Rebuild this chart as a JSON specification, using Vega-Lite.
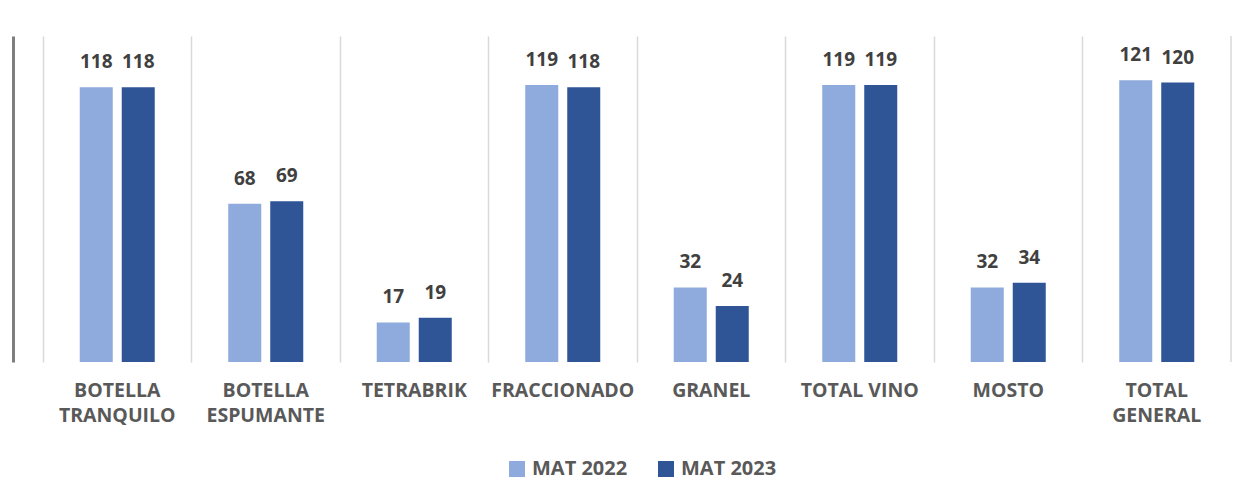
{
  "$schema": "https://vega.github.io/schema/vega-lite/v6.json",
  "autosize": {"type": "none"},
  "padding": {"left": 43, "top": 36, "right": 10, "bottom": 119},
  "width": 1188,
  "height": 326,
  "background": "white",
  "config": {
    "view": {"stroke": null},
    "font": "Open Sans"
  },
  "data": {
    "values": [
      {"categoria": "BOTELLA TRANQUILO", "periodo": "MAT 2022", "valor": 118},
      {"categoria": "BOTELLA TRANQUILO", "periodo": "MAT 2023", "valor": 118},
      {"categoria": "BOTELLA ESPUMANTE", "periodo": "MAT 2022", "valor": 68},
      {"categoria": "BOTELLA ESPUMANTE", "periodo": "MAT 2023", "valor": 69},
      {"categoria": "TETRABRIK", "periodo": "MAT 2022", "valor": 17},
      {"categoria": "TETRABRIK", "periodo": "MAT 2023", "valor": 19},
      {"categoria": "FRACCIONADO", "periodo": "MAT 2022", "valor": 119},
      {"categoria": "FRACCIONADO", "periodo": "MAT 2023", "valor": 118},
      {"categoria": "GRANEL", "periodo": "MAT 2022", "valor": 32},
      {"categoria": "GRANEL", "periodo": "MAT 2023", "valor": 24},
      {"categoria": "TOTAL VINO", "periodo": "MAT 2022", "valor": 119},
      {"categoria": "TOTAL VINO", "periodo": "MAT 2023", "valor": 119},
      {"categoria": "MOSTO", "periodo": "MAT 2022", "valor": 32},
      {"categoria": "MOSTO", "periodo": "MAT 2023", "valor": 34},
      {"categoria": "TOTAL GENERAL", "periodo": "MAT 2022", "valor": 121},
      {"categoria": "TOTAL GENERAL", "periodo": "MAT 2023", "valor": 120}
    ]
  },
  "encoding": {
    "x": {
      "field": "categoria",
      "type": "nominal",
      "sort": null,
      "scale": {"paddingInner": 0, "paddingOuter": 0},
      "axis": {
        "title": null,
        "labelAngle": 0,
        "domain": false,
        "ticks": false,
        "grid": true,
        "bandPosition": 0,
        "gridColor": "#d9d9d9",
        "gridWidth": 1.5,
        "labelFont": "Open Sans",
        "labelFontWeight": "bold",
        "labelFontSize": 19.5,
        "labelColor": "#595959",
        "labelPadding": 28,
        "labelLineHeight": 25,
        "labelBaseline": "middle",
        "labelLimit": 300,
        "labelExpr": "datum.label == 'TOTAL VINO' ? datum.label : split(datum.label, ' ')"
      }
    },
    "y": {
      "field": "valor",
      "type": "quantitative",
      "scale": {"domain": [0, 140]},
      "axis": {
        "title": null,
        "labels": false,
        "ticks": false,
        "grid": false,
        "domain": true,
        "domainColor": "#7f7f7f",
        "domainWidth": 3,
        "offset": 30
      }
    }
  },
  "layer": [
    {
      "mark": {"type": "bar"},
      "encoding": {
        "xOffset": {
          "field": "periodo",
          "type": "nominal",
          "scale": {"paddingInner": 0.214, "paddingOuter": 0.875}
        },
        "color": {
          "field": "periodo",
          "type": "nominal",
          "scale": {"domain": ["MAT 2022", "MAT 2023"], "range": ["#8faadc", "#2f5597"]},
          "legend": {
            "title": null,
            "orient": "none",
            "legendX": 464,
            "legendY": 423,
            "direction": "horizontal",
            "symbolType": "square",
            "symbolSize": 256,
            "symbolStrokeWidth": 0,
            "labelFont": "Open Sans",
            "labelFontWeight": "bold",
            "labelFontSize": 20,
            "labelColor": "#595959",
            "columnPadding": 28,
            "labelOffset": 5
          }
        }
      }
    },
    {
      "mark": {
        "type": "text",
        "baseline": "middle",
        "dy": -25,
        "font": "Open Sans",
        "fontWeight": "bold",
        "fontSize": 19,
        "color": "#404040"
      },
      "encoding": {
        "xOffset": {
          "field": "periodo",
          "type": "nominal",
          "scale": {"paddingInner": 0.214, "paddingOuter": 0.875}
        },
        "text": {"field": "valor", "type": "quantitative"}
      }
    },
    {
      "transform": [{"filter": "datum.categoria == 'TOTAL GENERAL' && datum.periodo == 'MAT 2022'"}],
      "mark": {"type": "rule", "color": "#d9d9d9", "strokeWidth": 1.5},
      "encoding": {
        "x": {"field": "categoria", "type": "nominal", "sort": null, "bandPosition": 1},
        "y": {"datum": 0},
        "y2": {"datum": 140}
      }
    }
  ]
}
